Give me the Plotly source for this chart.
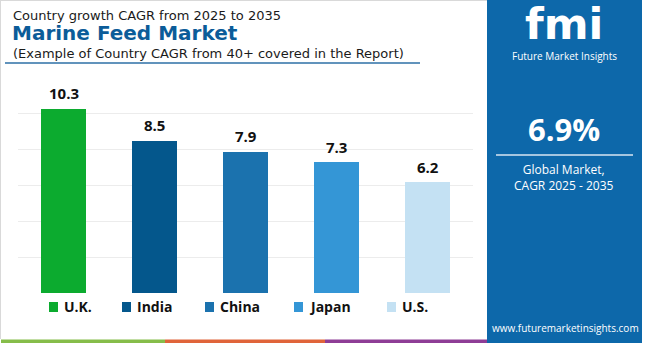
import plotly.graph_objects as go

# Country CAGR 2025-2035 (%)
countries = ["U.K.", "India", "China", "Japan", "U.S."]
cagr = [10.3, 8.5, 7.9, 7.3, 6.2]
bar_colors = ["#0cab2f", "#04578c", "#1b72ae", "#3496d6", "#c4e1f3"]
y_ticks = [0, 2, 4, 6, 8, 10, 12]

global_cagr = "6.9%"
title_top = "Country growth CAGR from 2025 to 2035"
title_main = "Marine Feed Market"
title_sub = "(Example of Country CAGR from 40+ covered in the Report)"

W, H = 650, 343
FONT = "Open Sans"
TFONT = "DejaVu Sans"
PANEL = "#0d68aa"


def px(x):
    return x / W


def py(y):
    return 1 - y / H


fig = go.Figure()
fig.add_trace(go.Bar(
    x=countries, y=cagr,
    marker=dict(color=bar_colors, line=dict(width=0)),
    width=0.495, showlegend=False, hoverinfo="x+y",
))

annotations = []
# value labels above the bars
for c, v in zip(countries, cagr):
    annotations.append(dict(
        x=c, y=v, xref="x", yref="y", text=f"<b>{v}</b>", showarrow=False,
        yanchor="bottom", yshift=3,
        font=dict(family=FONT, size=15, color="#111111"),
    ))

# titles
annotations += [
    dict(x=px(12), y=py(15), text=title_top, xanchor="left", yanchor="middle", borderpad=0,
         font=dict(family=TFONT, size=13, color="#1a1a1a")),
    dict(x=px(11), y=py(33.5), text=f"<b>{title_main}</b>", xanchor="left", yanchor="middle",
         borderpad=0, font=dict(family=TFONT, size=20, color="#0b5c99")),
    dict(x=px(12), y=py(53), text=title_sub, xanchor="left", yanchor="middle", borderpad=0,
         font=dict(family=TFONT, size=13, color="#1a1a1a")),
]

shapes = [
    # card border (left/top)
    dict(type="line", xref="paper", yref="paper", x0=px(0.5), x1=px(0.5), y0=py(0), y1=py(339),
         line=dict(color="#d9d9d9", width=1)),
    dict(type="line", xref="paper", yref="paper", x0=px(0), x1=px(487), y0=py(0.5), y1=py(0.5),
         line=dict(color="#d9d9d9", width=1)),
    # title underline
    dict(type="line", xref="paper", yref="paper", x0=px(5), x1=px(420), y0=py(63), y1=py(63),
         line=dict(color="#2c6fa6", width=1.5)),
    # right panel
    dict(type="rect", xref="paper", yref="paper", x0=px(487), x1=px(642), y0=py(0), y1=py(343),
         fillcolor=PANEL, line=dict(width=0), layer="below"),
    dict(type="line", xref="paper", yref="paper", x0=px(496), x1=px(633), y0=py(155), y1=py(155),
         line=dict(color="#d8e6f2", width=1.5)),
    # bottom colour stripe
    dict(type="rect", xref="paper", yref="paper", x0=px(1), x1=px(165), y0=py(339.5), y1=py(343),
         fillcolor="#86bd4a", line=dict(width=0)),
    dict(type="rect", xref="paper", yref="paper", x0=px(165), x1=px(325), y0=py(339.5), y1=py(343),
         fillcolor="#e0643a", line=dict(width=0)),
    dict(type="rect", xref="paper", yref="paper", x0=px(325), x1=px(487), y0=py(339.5), y1=py(343),
         fillcolor="#8e3d96", line=dict(width=0)),
]

# legend row
legend_x = [49, 122, 205, 294, 387]
for lx, name, col in zip(legend_x, countries, bar_colors):
    shapes.append(dict(type="rect", xref="paper", yref="paper",
                       x0=px(lx), x1=px(lx + 9), y0=py(302), y1=py(312),
                       fillcolor=col, line=dict(width=0)))
    annotations.append(dict(x=px(lx + 13), y=py(306.5), text=f"<b>{name}</b>",
                            xanchor="left", yanchor="middle",
                            font=dict(family=FONT, size=14, color="#111111")))

# right panel texts
annotations += [
    dict(x=px(564), y=py(24), text="<b>fmi</b>", xanchor="center", yanchor="middle",
         font=dict(family="DejaVu Sans", size=43, color="white")),
    dict(x=px(564), y=py(56), text="Future Market Insights", xanchor="center", yanchor="middle",
         font=dict(family=FONT, size=10, color="white")),
    dict(x=px(564), y=py(129), text=f"<b>{global_cagr}</b>", xanchor="center", yanchor="middle",
         font=dict(family=FONT, size=31, color="white")),
    dict(x=px(564), y=py(177), text="Global Market,<br>CAGR 2025 - 2035", xanchor="center",
         yanchor="middle", align="center",
         font=dict(family=FONT, size=12, color="white")),
    dict(x=px(565), y=py(327.5), text="www.futuremarketinsights.com", xanchor="center", yanchor="middle",
         font=dict(family=FONT, size=10, color="white")),
]
for a in annotations:
    a.setdefault("showarrow", False)
    a.setdefault("xref", "paper")
    a.setdefault("yref", "paper")

fig.update_layout(
    width=W, height=H,
    margin=dict(l=0, r=0, t=0, b=0),
    paper_bgcolor="white", plot_bgcolor="white",
    bargap=0,
    xaxis=dict(domain=[px(18.2), px(473.2)], showticklabels=False, showgrid=False,
               zeroline=False, showline=False, fixedrange=True),
    yaxis=dict(domain=[py(293), py(77.6)], range=[0, 12], tickvals=y_ticks,
               showticklabels=False, showgrid=True, gridcolor="#ececec", gridwidth=1,
               zeroline=False, showline=False, fixedrange=True),
    shapes=shapes, annotations=annotations, showlegend=False,
)

fig.write_html("out.html", config={"displayModeBar": False})
